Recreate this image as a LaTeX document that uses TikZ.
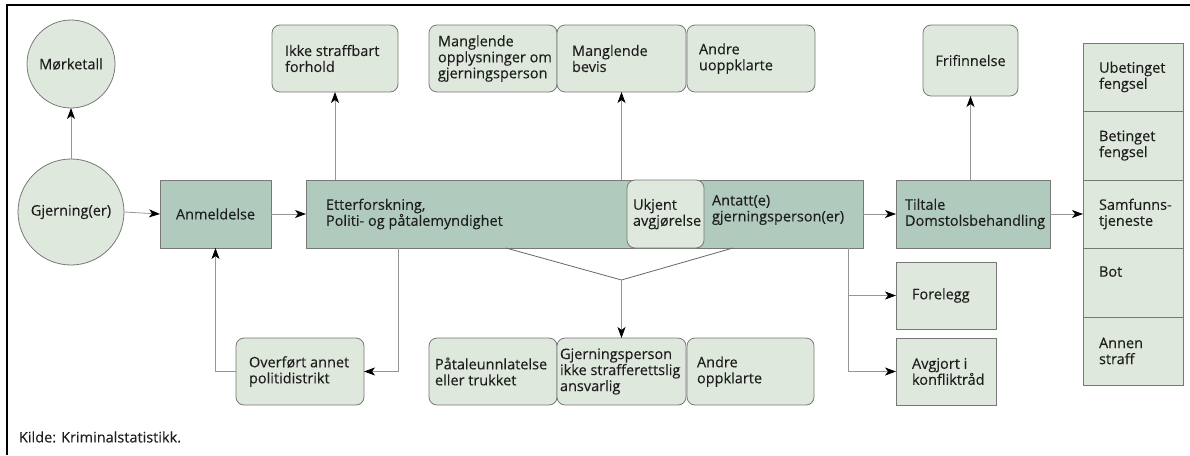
\documentclass[tikz,border=0pt]{standalone}
\usepackage{fontspec}
\setmainfont{Open Sans}[UprightFeatures={FakeBold=0.15}]
\usetikzlibrary{arrows.meta,calc}
\definecolor{lightfill}{RGB}{223,232,220}
\definecolor{darkfill}{RGB}{176,203,189}
\definecolor{edgegray}{RGB}{120,120,120}
\definecolor{linegray}{RGB}{150,150,150}
\definecolor{textgray}{RGB}{30,30,30}
\begin{document}
\begin{tikzpicture}[x=1pt,y=-1pt,
  every node/.style={font=\fontsize{14.5}{16}\selectfont, text=textgray, inner sep=0pt, outer sep=0pt},
  rbox/.style={draw=edgegray, fill=lightfill, rounded corners=8pt, line width=0.8pt},
  sbox/.style={draw=edgegray, fill=lightfill, line width=0.8pt},
  dbox/.style={draw=edgegray, fill=darkfill, line width=0.8pt},
  circ/.style={draw=edgegray, fill=lightfill, circle, line width=0.8pt, align=center},
  txtlab/.style={anchor=west, align=left, inner sep=0pt},
  tl/.style 2 args={label={[txtlab, xshift=#1]west:{#2}}},
  plain/.style={align=left},
  conn/.style={draw=linegray, line width=0.8pt},
  arr/.style={conn, -{Stealth[length=11pt,width=8pt,inset=3pt,color=black]}},
  funnel/.style={draw=black!60, line width=0.8pt}]
\useasboundingbox (0,0) rectangle (1190,455);
% open frame, top and left
\draw[line width=2pt] (7,455) -- (7,5) -- (1190,5);

% circles
\node[circ, minimum size=88pt] (mork) at (71,64) {Mørketall};
\node[circ, minimum size=106pt] (gj) at (71,212) {Gjerning(er)};

% main row
\node[dbox, minimum width=111pt, minimum height=68pt] (anm) at (215.5,214) {Anmeldelse};
\node[dbox, minimum width=557pt, minimum height=68pt, tl={20pt}{Etterforskning,\\Politi- og påtalemyndighet}] (main) at (584.5,214) {};
\node[rbox, minimum width=77pt, minimum height=68pt, tl={6pt}{Ukjent\\avgjørelse}] (ukj) at (665.5,214) {};
\node[plain, anchor=west] (ant) at (712,210) {Antatt(e)\\gjerningsperson(er)};
\node[dbox, minimum width=154pt, minimum height=68pt, tl={9pt}{Tiltale\\Domstolsbehandling}] (tilt) at (973,214) {};

% top row
\node[rbox, minimum width=126pt, minimum height=67pt, tl={13pt}{Ikke straffbart\\forhold}] (ikke) at (335,58.5) {};
\node[rbox, minimum width=128pt, minimum height=67pt, tl={9pt}{Manglende\\opplysninger om\\gjerningsperson}] (mopp) at (493,58.5) {};
\node[rbox, minimum width=129pt, minimum height=67pt, tl={15pt}{Manglende\\bevis}] (mbev) at (621.5,58.5) {};
\node[rbox, minimum width=128pt, minimum height=67pt, tl={12pt}{Andre\\uoppklarte}] (auopp) at (751,58.5) {};
\node[rbox, minimum width=95pt, minimum height=71pt] (frif) at (970.5,60.5) {Frifinnelse};

% sentence column
\node[sbox, minimum width=100pt, minimum height=68pt, tl={16pt}{Ubetinget\\fengsel}] (ubet) at (1133,77) {};
\node[sbox, minimum width=100pt, minimum height=69pt, tl={16pt}{Betinget\\fengsel}] (bet) at (1133,145.5) {};
\node[sbox, minimum width=100pt, minimum height=68pt, tl={16pt}{Samfunns-\\tjeneste}] (samf) at (1133,214) {};
\node[sbox, minimum width=100pt, minimum height=69pt, tl={16pt}{Bot\\[6pt]}] (bot) at (1133,282.5) {};
\node[sbox, minimum width=100pt, minimum height=68pt, tl={16pt}{Annen\\straff}] (annen) at (1133,351) {};

% bottom row
\node[rbox, minimum width=128pt, minimum height=67pt, tl={13pt}{Overført annet\\politidistrikt}] (over) at (300,371.5) {};
\node[rbox, minimum width=128pt, minimum height=67pt, tl={6pt}{Påtaleunnlatelse\\eller trukket}] (pat) at (493,371.5) {};
\node[rbox, minimum width=129pt, minimum height=67pt, tl={3pt}{Gjerningsperson\\ikke strafferettslig\\ansvarlig}] (gjp) at (621.5,371.5) {};
\node[rbox, minimum width=127pt, minimum height=67pt, tl={10pt}{Andre\\oppklarte}] (aopp) at (750.5,371.5) {};
\node[sbox, minimum width=100pt, minimum height=67pt, tl={16pt}{Forelegg}] (fore) at (946,295.5) {};
\node[sbox, minimum width=100pt, minimum height=67pt, tl={16pt}{Avgjort i\\konfliktråd}] (avg) at (946,371.5) {};

\node[plain, anchor=west] (kilde) at (19,437) {Kilde: Kriminalstatistikk.};

% flow along the main row
\draw[arr] (gj.north) -- (mork.south);
\draw[arr] (gj.east) -- (anm.west);
\draw[arr] (anm.east) -- (main.west);
\draw[arr] (main.east) -- (tilt.west);
\draw[arr] (tilt.east) -- (samf.west);

% upward outcomes
\draw[arr] (ikke.south |- main.north) -- (ikke.south);
\draw[arr] (mbev.south |- main.north) -- (mbev.south);
\draw[arr] (frif.south |- tilt.north) -- (frif.south);

% transfer loop
\coordinate (tr) at ($(main.south west)+(92,0)$);
\draw[arr] (tr) |- (over.east);
\draw[arr] (over.west) -| (anm.south);

% solved cases funnel
\coordinate (fa) at ($(main.south west)+(200,0)$);
\coordinate (fb) at ($(main.south west)+(427,0)$);
\coordinate (fc) at (gjp.north |- 0,280);
\draw[funnel] (fa) -- (fc) -- (fb);
\draw[arr] (fc) -- (gjp.north);

% fines and mediation
\coordinate (br) at ($(main.south east)+(-15,0)$);
\draw[arr] (br) |- (fore.west);
\draw[arr] (br) |- (avg.west);
\end{tikzpicture}
\end{document}
